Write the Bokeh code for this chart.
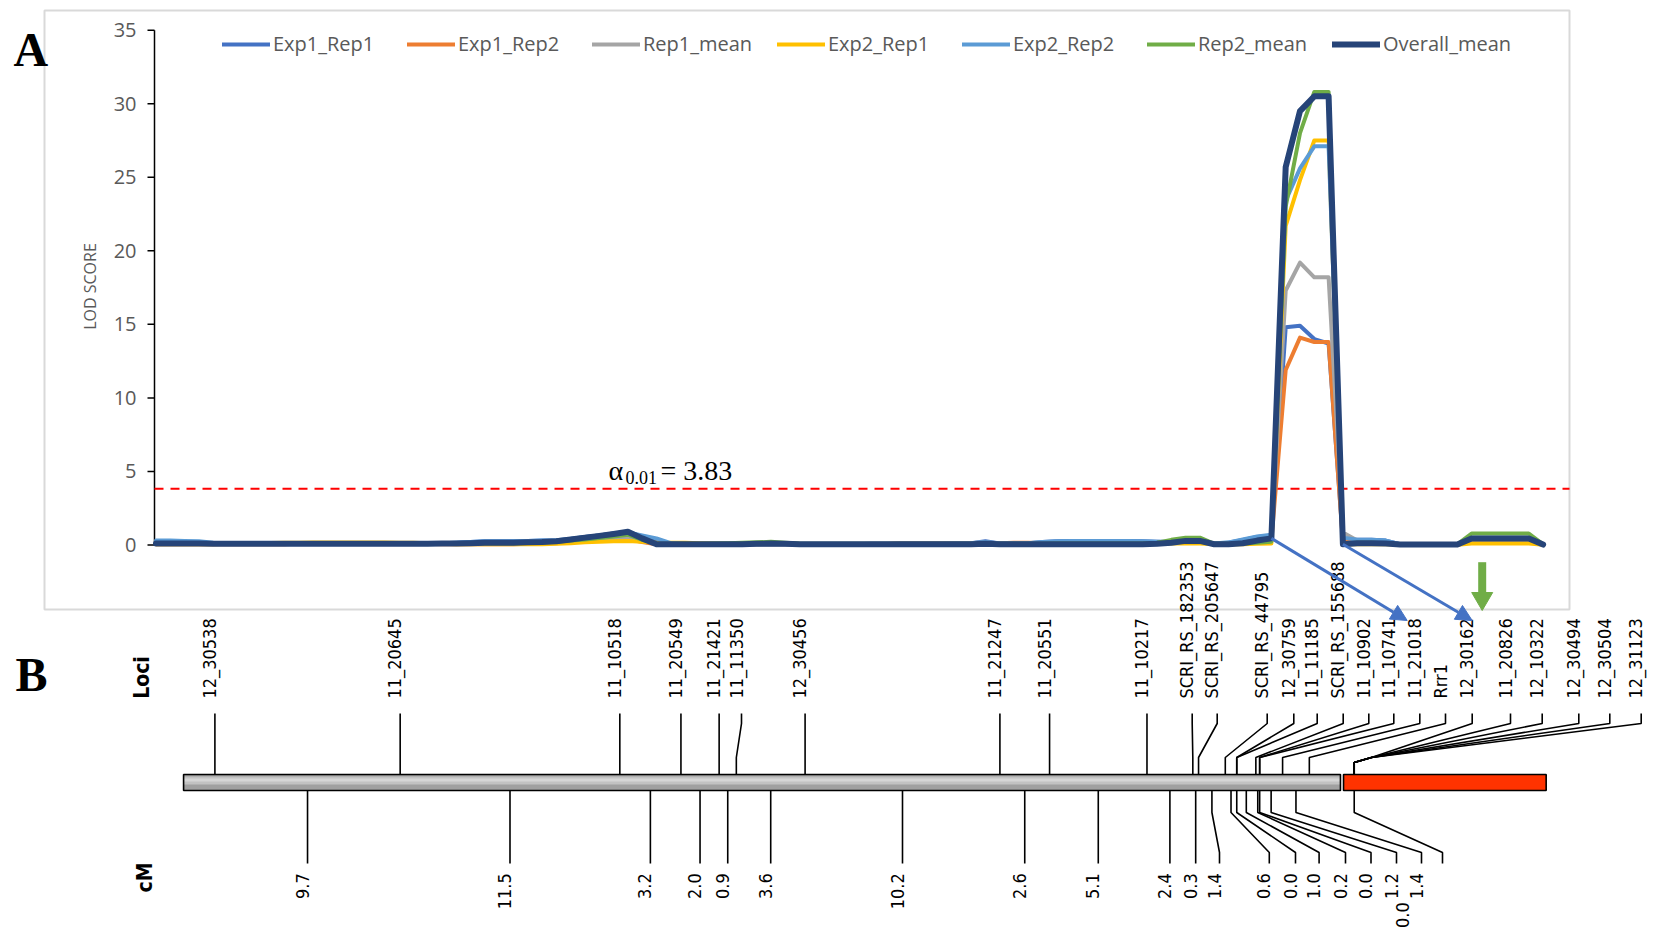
import math
from bokeh.plotting import figure
from bokeh.models import Range1d, Legend, LegendItem, Arrow, NormalHead
from bokeh.core.properties import value
from bokeh.embed import file_html
from bokeh.resources import INLINE

# ---------------- Panel A: LOD profiles along the marker order ----------------
series_names = ["Exp1_Rep1", "Exp1_Rep2", "Rep1_mean", "Exp2_Rep1",
                "Exp2_Rep2", "Rep2_mean", "Overall_mean"]

exp1_rep1 = [
    0.20, 0.20, 0.18, 0.15, 0.10, 0.10, 0.10, 0.10, 0.10, 0.10,
    0.10, 0.10, 0.10, 0.10, 0.10, 0.10, 0.10, 0.10, 0.10, 0.10,
    0.12, 0.15, 0.20, 0.25, 0.25, 0.25, 0.28, 0.30, 0.30, 0.40,
    0.55, 0.65, 0.78, 0.90, 0.55, 0.20, 0.08, 0.05, 0.05, 0.05,
    0.05, 0.05, 0.05, 0.08, 0.05, 0.05, 0.05, 0.05, 0.05, 0.05,
    0.08, 0.08, 0.08, 0.08, 0.08, 0.08, 0.10, 0.12, 0.25, 0.10,
    0.10, 0.12, 0.20, 0.25, 0.28, 0.28, 0.28, 0.28, 0.28, 0.25,
    0.22, 0.20, 0.25, 0.25, 0.10, 0.15, 0.35, 0.55, 0.65, 14.8,
    14.9, 14.0, 13.7, 0.30, 0.35, 0.35, 0.30, 0.05, 0.05, 0.05,
    0.05, 0.05, 0.50, 0.50, 0.50, 0.50, 0.50, 0.05]

exp1_rep2 = [
    0.05, 0.05, 0.05, 0.05, 0.05, 0.05, 0.05, 0.05, 0.05, 0.05,
    0.10, 0.10, 0.12, 0.12, 0.12, 0.12, 0.12, 0.10, 0.10, 0.08,
    0.05, 0.05, 0.05, 0.05, 0.05, 0.05, 0.08, 0.10, 0.12, 0.18,
    0.25, 0.30, 0.35, 0.40, 0.20, 0.05, 0.05, 0.05, 0.05, 0.05,
    0.05, 0.05, 0.05, 0.05, 0.05, 0.05, 0.05, 0.05, 0.05, 0.05,
    0.05, 0.05, 0.12, 0.12, 0.12, 0.12, 0.12, 0.12, 0.12, 0.12,
    0.15, 0.15, 0.12, 0.12, 0.12, 0.12, 0.12, 0.12, 0.12, 0.12,
    0.12, 0.15, 0.20, 0.20, 0.05, 0.05, 0.10, 0.20, 0.30, 11.9,
    14.1, 13.8, 13.8, 0.20, 0.20, 0.20, 0.15, 0.02, 0.02, 0.02,
    0.02, 0.02, 0.20, 0.20, 0.20, 0.20, 0.20, 0.02]

rep1_mean = [
    0.12, 0.12, 0.12, 0.10, 0.08, 0.08, 0.08, 0.08, 0.08, 0.08,
    0.10, 0.10, 0.10, 0.10, 0.10, 0.10, 0.10, 0.10, 0.10, 0.10,
    0.08, 0.10, 0.12, 0.15, 0.15, 0.15, 0.18, 0.20, 0.22, 0.28,
    0.35, 0.42, 0.48, 0.55, 0.35, 0.12, 0.06, 0.05, 0.05, 0.05,
    0.05, 0.05, 0.05, 0.05, 0.05, 0.05, 0.05, 0.05, 0.05, 0.05,
    0.06, 0.06, 0.10, 0.10, 0.10, 0.10, 0.11, 0.12, 0.18, 0.11,
    0.12, 0.13, 0.16, 0.18, 0.20, 0.20, 0.20, 0.20, 0.20, 0.18,
    0.17, 0.18, 0.22, 0.22, 0.08, 0.10, 0.22, 0.38, 0.48, 17.3,
    19.2, 18.2, 18.2, 0.85, 0.30, 0.30, 0.25, 0.04, 0.04, 0.04,
    0.04, 0.04, 0.35, 0.35, 0.35, 0.35, 0.35, 0.04]

exp2_rep1 = [
    0.05, 0.05, 0.05, 0.05, 0.05, 0.08, 0.10, 0.12, 0.14, 0.15,
    0.16, 0.17, 0.17, 0.17, 0.17, 0.17, 0.17, 0.16, 0.15, 0.12,
    0.08, 0.05, 0.05, 0.05, 0.05, 0.05, 0.05, 0.05, 0.08, 0.12,
    0.18, 0.22, 0.25, 0.28, 0.22, 0.15, 0.15, 0.15, 0.12, 0.10,
    0.08, 0.08, 0.08, 0.08, 0.08, 0.05, 0.05, 0.05, 0.05, 0.05,
    0.05, 0.05, 0.05, 0.05, 0.05, 0.05, 0.05, 0.05, 0.05, 0.05,
    0.05, 0.05, 0.08, 0.10, 0.10, 0.10, 0.10, 0.10, 0.10, 0.10,
    0.10, 0.10, 0.10, 0.10, 0.05, 0.05, 0.05, 0.08, 0.10, 21.7,
    24.8, 27.5, 27.5, 0.05, 0.05, 0.05, 0.05, 0.02, 0.02, 0.02,
    0.02, 0.02, 0.10, 0.10, 0.10, 0.10, 0.10, 0.02]

exp2_rep2 = [
    0.30, 0.30, 0.28, 0.25, 0.15, 0.10, 0.10, 0.10, 0.10, 0.10,
    0.10, 0.10, 0.10, 0.10, 0.10, 0.10, 0.10, 0.10, 0.10, 0.10,
    0.12, 0.15, 0.20, 0.25, 0.25, 0.25, 0.28, 0.30, 0.32, 0.42,
    0.55, 0.65, 0.78, 0.85, 0.65, 0.45, 0.12, 0.06, 0.05, 0.05,
    0.05, 0.05, 0.05, 0.05, 0.05, 0.05, 0.05, 0.05, 0.05, 0.05,
    0.05, 0.05, 0.08, 0.08, 0.08, 0.08, 0.10, 0.12, 0.20, 0.10,
    0.10, 0.12, 0.20, 0.25, 0.28, 0.28, 0.28, 0.28, 0.28, 0.25,
    0.22, 0.20, 0.25, 0.25, 0.10, 0.18, 0.38, 0.58, 0.70, 23.4,
    25.6, 27.1, 27.1, 0.50, 0.35, 0.35, 0.30, 0.05, 0.05, 0.05,
    0.05, 0.05, 0.45, 0.45, 0.45, 0.45, 0.45, 0.05]

rep2_mean = [
    0.10, 0.10, 0.10, 0.08, 0.08, 0.08, 0.08, 0.08, 0.08, 0.08,
    0.10, 0.10, 0.10, 0.10, 0.10, 0.10, 0.10, 0.10, 0.10, 0.10,
    0.08, 0.08, 0.10, 0.12, 0.12, 0.12, 0.15, 0.18, 0.22, 0.30,
    0.38, 0.48, 0.58, 0.70, 0.35, 0.08, 0.08, 0.08, 0.08, 0.10,
    0.12, 0.15, 0.18, 0.22, 0.15, 0.10, 0.08, 0.08, 0.08, 0.08,
    0.08, 0.08, 0.08, 0.08, 0.08, 0.08, 0.08, 0.08, 0.08, 0.08,
    0.08, 0.08, 0.08, 0.10, 0.10, 0.10, 0.10, 0.10, 0.10, 0.10,
    0.15, 0.35, 0.50, 0.50, 0.08, 0.08, 0.10, 0.15, 0.22, 23.0,
    28.0, 30.8, 30.8, 0.10, 0.15, 0.15, 0.12, 0.04, 0.04, 0.04,
    0.04, 0.04, 0.78, 0.78, 0.78, 0.78, 0.78, 0.04]

overall_mean = [
    0.10, 0.10, 0.10, 0.10, 0.08, 0.08, 0.08, 0.08, 0.08, 0.08,
    0.08, 0.08, 0.08, 0.08, 0.08, 0.08, 0.08, 0.08, 0.08, 0.08,
    0.10, 0.10, 0.12, 0.15, 0.15, 0.15, 0.18, 0.20, 0.25, 0.38,
    0.50, 0.62, 0.75, 0.90, 0.45, 0.05, 0.05, 0.05, 0.05, 0.05,
    0.05, 0.05, 0.08, 0.10, 0.08, 0.05, 0.05, 0.05, 0.05, 0.05,
    0.05, 0.05, 0.05, 0.05, 0.05, 0.05, 0.05, 0.05, 0.08, 0.05,
    0.05, 0.05, 0.05, 0.05, 0.05, 0.05, 0.05, 0.05, 0.05, 0.05,
    0.08, 0.15, 0.28, 0.28, 0.05, 0.05, 0.12, 0.30, 0.45, 25.7,
    29.5, 30.5, 30.5, 0.05, 0.12, 0.12, 0.10, 0.03, 0.03, 0.03,
    0.03, 0.03, 0.45, 0.45, 0.45, 0.45, 0.45, 0.03]

lod_ticks = [0, 5, 10, 15, 20, 25, 30, 35]
threshold = 3.83

# ---------------- Panel B: linkage map ----------------
loci = ["12_30538", "11_20645", "11_10518", "11_20549", "11_21421", "11_11350",
        "12_30456", "11_21247", "11_20551", "11_10217", "SCRI_RS_182353",
        "SCRI_RS_205647", "SCRI_RS_44795", "12_30759", "11_11185",
        "SCRI_RS_155688", "11_10902", "11_10741", "11_21018", "Rrr1",
        "12_30162", "11_20826", "12_10322", "12_30494", "12_30504", "12_31123"]
intervals_cm = [9.7, 11.5, 3.2, 2.0, 0.9, 3.6, 10.2, 2.6, 5.1, 2.4, 0.3, 1.4,
                0.6, 0.0, 1.0, 0.2, 0.0, 1.2, 1.4, 0.0]

# ---------------- page geometry ----------------
W, H = 1661, 932
X0, DX = 155.5, 14.3        # first marker column and column step (px)
Y0, DY = 544.5, 14.71       # LOD 0 baseline and px per LOD unit
CM_X0, CM_PX = 214.4, 19.1  # first locus and px per cM

def idx_px(i):
    return X0 + DX * i

def lod_py(v):
    return Y0 - DY * v

def px_cm(px):
    return (px - CM_X0) / CM_PX

p = figure(width=W, height=H, x_range=Range1d(0, W), y_range=Range1d(H, 0),
           output_backend="svg", toolbar_location=None, min_border=0,
           x_axis_type=None, y_axis_type=None)
p.outline_line_color = None
p.background_fill_color = "white"
p.border_fill_color = "white"
p.extra_x_ranges = {"idx": Range1d((0 - X0) / DX, (W - X0) / DX),
                    "cm": Range1d(px_cm(0), px_cm(W))}
p.extra_y_ranges = {"lod": Range1d((Y0 - H) / DY, Y0 / DY)}

SANS = value("Open Sans")
MAPFONT = value("DejaVu Sans Condensed")
SERIF = value("Liberation Serif")
GREY_TXT = "#595959"

# chart box of panel A
p.quad(left=44, right=1569, top=10, bottom=609, fill_alpha=0,
       line_color="#D9D9D9", line_width=2)

# LOD axis
p.segment(x0=154, y0=0, x1=154, y1=35, y_range_name="lod",
          line_color="black", line_width=1.5)
p.segment(x0=[147] * len(lod_ticks), y0=lod_ticks, x1=[154] * len(lod_ticks),
          y1=lod_ticks, y_range_name="lod", line_color="black", line_width=1.5)
p.text(x=[136] * len(lod_ticks), y=lod_ticks, text=[str(t) for t in lod_ticks],
       y_range_name="lod", text_font=SANS, text_font_size="20px",
       text_color=GREY_TXT, text_align="right", text_baseline="middle")
p.text(x=[89], y=[286], text=["LOD SCORE"], angle=math.pi / 2, text_font=SANS,
       text_font_size="16px", text_color=GREY_TXT, text_align="center",
       text_baseline="middle")

# significance threshold
p.line(x=[154, 1569], y=[threshold, threshold], y_range_name="lod",
       line_color="#FF0000", line_width=2, line_dash="9 7")
p.text(x=[608], y=[470], text=["\u03b1"], text_font=SERIF, text_font_size="28px",
       text_color="black", text_baseline="middle")
p.text(x=[625], y=[477], text=["0.01"], text_font=SERIF, text_font_size="18px",
       text_color="black", text_baseline="middle")
p.text(x=[660], y=[470], text=["= %.2f" % threshold], text_font=SERIF,
       text_font_size="28px", text_color="black", text_baseline="middle")

# LOD curves
colors = ["#4472C4", "#ED7D31", "#A5A5A5", "#FFC000", "#5B9BD5", "#70AD47", "#264478"]
widths = [4, 4, 4, 4, 4, 4, 6]
all_series = [exp1_rep1, exp1_rep2, rep1_mean, exp2_rep1, exp2_rep2, rep2_mean, overall_mean]
marker_idx = list(range(len(overall_mean)))
items = []
for name, ys, col, lw in zip(series_names, all_series, colors, widths):
    r = p.line(x=marker_idx, y=ys, x_range_name="idx", y_range_name="lod",
               line_color=col, line_width=lw, line_join="round", line_cap="round")
    items.append(LegendItem(label=name, renderers=[r]))

legend = Legend(items=items, orientation="horizontal", location=(222, H - 57),
                glyph_width=48, glyph_height=20, label_height=20, label_width=134,
                label_standoff=3, spacing=0, padding=0, margin=0,
                border_line_alpha=0, background_fill_alpha=0,
                label_text_font="Open Sans", label_text_font_size="20px",
                label_text_color=GREY_TXT)
p.add_layout(legend)

# ---------------- linkage map ----------------
pos_cm = [0.0]
for d in intervals_cm[:19]:
    pos_cm.append(pos_cm[-1] + d)
group_cm = 59.65                       # co-segregating block at the start of the red segment
locus_cm = pos_cm + [group_cm] * (len(loci) - len(pos_cm))

tick_cm = [(pos_cm[k] + pos_cm[k + 1]) / 2 for k in range(19)] + [group_cm]

# label slots (page px); None keeps the label straight above/below its mark
locus_slot = [None, None, None, None, None, 741, None, None, None, None,
              1191.7, 1216.7, 1266.7, 1293.3, 1316.7, 1342.7, 1368.3, 1393.3,
              1419.3, 1445.0, 1471.7, 1510.0, 1541.7, 1578.3, 1609.3, 1640.7]
interval_slot = [None] * 11 + [1219, 1268.8, 1295, 1318.6, 1345, 1370.5, 1396, 1421, 1442]

lab_cm = [locus_cm[i] if s is None else px_cm(s) for i, s in enumerate(locus_slot)]
ilab_cm = [tick_cm[k] if s is None else px_cm(s) for k, s in enumerate(interval_slot)]
# the co-segregating block fans in to one point just right of its position
elbow_cm = [c + (0.9 if c == group_cm else 0.0) for c in locus_cm]

# chromosome bars
chrom_start_cm, chrom_split_cm, chrom_end_cm = -1.64, 58.93, 69.7
BAR_T, BAR_B = 774, 790
p.quad(left=chrom_start_cm, right=chrom_split_cm, top=BAR_T, bottom=BAR_B,
       x_range_name="cm", fill_color="#A0A0A0", line_color=None)
p.quad(left=chrom_start_cm, right=chrom_split_cm, top=BAR_T + 2, bottom=BAR_T + 10,
       x_range_name="cm", fill_color="#C2C2C2", line_color=None)
p.quad(left=chrom_start_cm, right=chrom_split_cm, top=BAR_T + 4, bottom=BAR_T + 7,
       x_range_name="cm", fill_color="#D6D6D6", line_color=None)
p.quad(left=chrom_start_cm, right=chrom_split_cm, top=BAR_T, bottom=BAR_B,
       x_range_name="cm", fill_alpha=0, line_color="black", line_width=1.6)
p.quad(left=chrom_split_cm + 0.16, right=chrom_end_cm, top=BAR_T, bottom=BAR_B,
       x_range_name="cm", fill_color="#FF3300", line_color="black", line_width=1.6)

# locus leader lines and names
p.multi_line(xs=[[lx, lx, e, c, c] for lx, e, c in zip(lab_cm, elbow_cm, locus_cm)],
             ys=[[713, 723, 757, 762, BAR_T]] * len(loci), x_range_name="cm",
             line_color="black", line_width=1.6)
TXT_SHIFT = 5.5 / CM_PX   # names sit just left of their leader line
p.text(x=[c - TXT_SHIFT for c in lab_cm], y=[698] * len(loci), text=loci,
       angle=math.pi / 2, x_range_name="cm", text_font=MAPFONT,
       text_font_size="18px", text_color="black", text_align="left",
       text_baseline="middle")

# interval leader lines and distances
p.multi_line(xs=[[t, t, lx, lx] for t, lx in zip(tick_cm, ilab_cm)],
             ys=[[BAR_B, 812, 852, 863]] * len(tick_cm), x_range_name="cm",
             line_color="black", line_width=1.6)
ilab_x = [c - TXT_SHIFT for c in ilab_cm[:-1]] + [px_cm(1402)]
ilab_y = [872.7] * (len(tick_cm) - 1) + [901.7]
p.text(x=ilab_x, y=ilab_y, text=["%.1f" % d for d in intervals_cm],
       angle=math.pi / 2, x_range_name="cm", text_font=MAPFONT,
       text_font_size="18px", text_color="black", text_align="right",
       text_baseline="middle")

# row titles and panel letters
p.text(x=[141.5], y=[677], text=["Loci"], angle=math.pi / 2,
       text_font=MAPFONT, text_font_style="bold",
       text_font_size="21px", text_color="black", text_align="center",
       text_baseline="middle")
p.text(x=[144.5], y=[877], text=["cM"], angle=math.pi / 2,
       text_font=MAPFONT, text_font_style="bold",
       text_font_size="21px", text_color="black", text_align="center",
       text_baseline="middle")
p.text(x=[13, 15], y=[49, 674], text=["A", "B"], text_font=SERIF,
       text_font_style="bold", text_font_size="48px", text_color="black",
       text_baseline="middle")

# arrows linking the peak flanks to the map
BLUE = "#4472C4"
for i_start, tip_x in [(78, 1406.7), (83, 1471.7)]:
    p.add_layout(Arrow(end=NormalHead(size=16, fill_color=BLUE, line_color=BLUE),
                       x_start=idx_px(i_start), y_start=lod_py(overall_mean[i_start]),
                       x_end=tip_x, y_end=620, line_color=BLUE, line_width=3))

GREEN = "#70AD47"
p.segment(x0=1481.7, y0=561.7, x1=1481.7, y1=593, line_color=GREEN, line_width=8)
p.patch(x=[1471.2, 1492.2, 1481.7], y=[592, 592, 610], fill_color=GREEN,
        line_color=GREEN)

open("out.html", "w").write(file_html(p, INLINE, title="LOD profile and linkage map"))
